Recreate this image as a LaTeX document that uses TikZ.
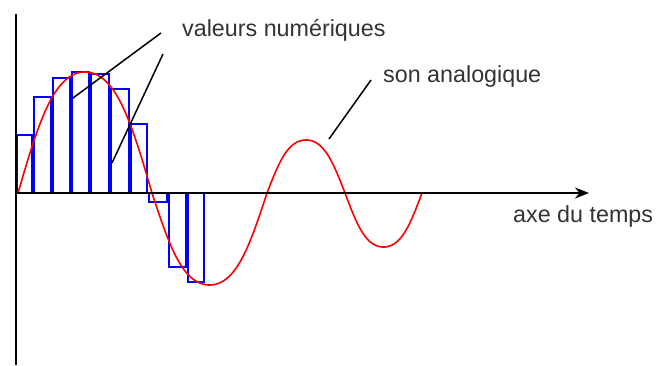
\documentclass[tikz,border=0pt]{standalone}
\usepackage{fontspec}
\setmainfont{Liberation Sans}
\usetikzlibrary{arrows.meta}

\begin{document}
\begin{tikzpicture}[
    x=1pt, y=-1pt,
    axis/.style={black, line width=2pt},
    analog/.style={red, line width=1.6pt},
    sample/.style={blue, line width=2pt},
    leader/.style={black, line width=1.5pt},
    label/.style={inner sep=0pt, anchor=base west, text=black!80,
        font=\fontsize{23.3}{27}\selectfont},
    >={Stealth[length=14pt, width=11pt]}
]
\useasboundingbox (0,0) rectangle (657,365);

% Sampled values (sample and hold)
\foreach \xa/\xb/\h in {16/33/135, 33/52/97, 52/71/78, 71/90/72, 90/110/74,
                        110/130/89, 130/148/124, 148/168/202, 168/187/267, 187/205/282}
    \draw[sample] (\xa+1,193) rectangle (\xb-1,\h);

% Analog signal, one lobe at a time
\foreach \xa/\xb/\amp in {18/152/121, 152/267/-92, 267/345/53, 345/422/-54}
    \draw[analog] plot[domain=0:1, samples=50, smooth]
        ({\xa+\x*(\xb-\xa)},{193-\amp*(sin(180*\x)+0.05*sin(540*\x))/0.95});

% Axes
\coordinate (O) at (16,193);
\coordinate (ytop) at (16,14);
\coordinate (ybot) at (16,365);
\coordinate (tend) at (589,193);
\draw[axis] (ytop) -- (ybot);
\draw[axis, ->] (O) -- (tend);

% Labels
\node[label] (valeurs) at (182,36) {valeurs numériques};
\node[label] (analog) at (383,82) {son analogique};
\node[label] (axe) at (513,222) {axe du temps};

% Leader lines
\coordinate (v1a) at (161,33);
\coordinate (v1b) at (73,98);
\coordinate (v2a) at (163,54);
\coordinate (v2b) at (112,163);
\coordinate (s1a) at (371,80);
\coordinate (s1b) at (329,139);
\draw[leader] (v1a) -- (v1b);
\draw[leader] (v2a) -- (v2b);
\draw[leader] (s1a) -- (s1b);

\end{tikzpicture}
\end{document}
